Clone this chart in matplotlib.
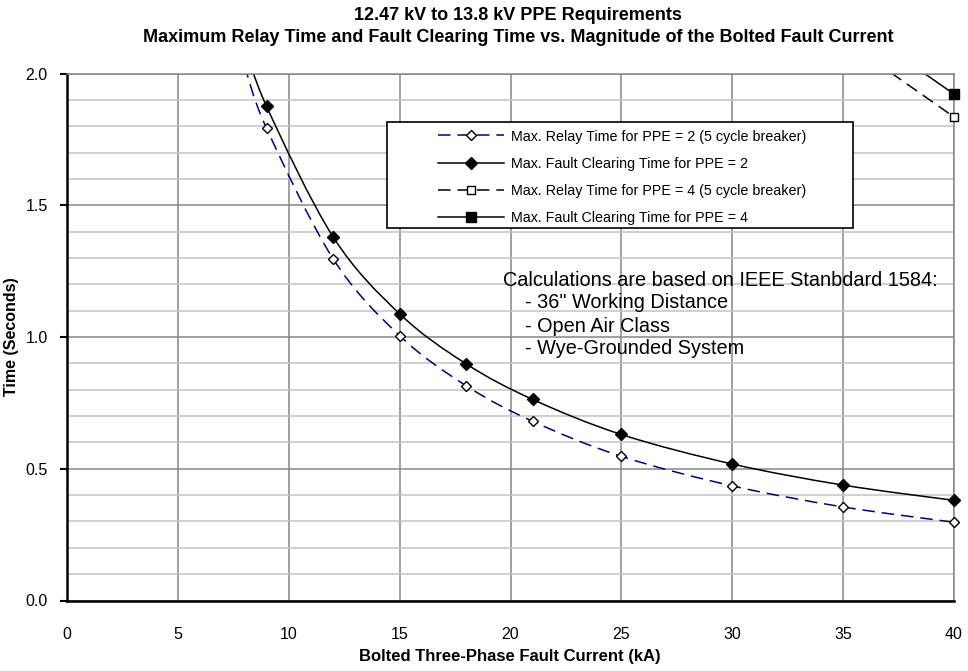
import matplotlib
matplotlib.use("Agg")
import matplotlib.pyplot as plt
import numpy as np
from matplotlib.path import Path
from matplotlib.patches import PathPatch, Rectangle
from matplotlib.lines import Line2D

plt.rcParams['font.family'] = ['Liberation Sans', 'DejaVu Sans']
plt.rcParams['lines.scale_dashes'] = False

# data (x = bolted fault current, kA; y = seconds)
current_ppe2 = [8, 9, 12, 15, 18, 21, 25, 30, 35, 40]
relay_ppe2 = [2.03, 1.792, 1.297, 1.005, 0.815, 0.680, 0.547, 0.435, 0.355, 0.297]
clearing_ppe2 = [2.113, 1.875, 1.380, 1.088, 0.898, 0.763, 0.630, 0.518, 0.438, 0.380]

current_ppe4 = [35, 40]
relay_ppe4 = [2.13, 1.835]
clearing_ppe4 = [2.215, 1.922]

labels = ["Max. Relay Time for PPE = 2 (5 cycle breaker)",
          "Max. Fault Clearing Time for PPE = 2",
          "Max. Relay Time for PPE = 4 (5 cycle breaker)",
          "Max. Fault Clearing Time for PPE = 4"]

note_lines = ["Calculations are based on IEEE Stanbdard 1584:",
              "    - 36\" Working Distance",
              "    - Open Air Class",
              "    - Wye-Grounded System"]

W, H = 968, 671


def smooth_path(x, y):
    # excel style smoothed line (catmull-rom as cubic bezier)
    pts = np.column_stack([x, y]).astype(float)
    verts = [pts[0]]
    codes = [Path.MOVETO]
    n = len(pts)
    for i in range(n - 1):
        p0 = pts[i - 1] if i > 0 else pts[i]
        p1 = pts[i]
        p2 = pts[i + 1]
        p3 = pts[i + 2] if i + 2 < n else pts[i + 1]
        verts += [p1 + (p2 - p0) / 6, p2 - (p3 - p1) / 6, p2]
        codes += [Path.CURVE4] * 3
    return Path(verts, codes)


def draw_series(ax, x, y, color, ls, marker, ms, mfc):
    ax.add_patch(PathPatch(smooth_path(x, y), facecolor='none', edgecolor=color,
                           lw=1.1, linestyle=ls, zorder=2))
    x = np.array(x)
    y = np.array(y)
    keep = y <= 2.0
    ax.plot(x[keep], y[keep], linestyle='none', marker=marker, ms=ms,
            mfc=mfc, mec='black', mew=1.0, clip_on=False, zorder=3)


fig = plt.figure(figsize=(W / 100, H / 100), dpi=100)
ax = fig.add_axes([67 / W, 1 - 600.5 / H, (954 - 67) / W, (600.5 - 73.5) / H])

ax.set_xlim(0, 40)
ax.set_ylim(0, 2.0)
ax.set_xticks(range(0, 41, 5))
ax.set_yticks(np.arange(0, 2.01, 0.5))
ax.set_yticks(np.arange(0, 2.01, 0.1), minor=True)
ax.yaxis.set_major_formatter(matplotlib.ticker.FormatStrFormatter('%.1f'))
ax.tick_params(axis='x', length=0, pad=19, labelsize=11.5)
ax.tick_params(axis='y', which='major', length=5, width=1.5, pad=9, labelsize=11.5)
ax.tick_params(which='minor', length=0)
ax.grid(which='major', color='#868686', lw=1.1)
ax.grid(which='minor', axis='y', color='#c4c4c4', lw=1.1)
for s in ['left', 'bottom']:
    ax.spines[s].set_linewidth(1.8)
for s in ['top', 'right']:
    ax.spines[s].set_color('#868686')
    ax.spines[s].set_linewidth(1.1)

navy_dash = (0, (9, 5))
black_dash = (0, (9, 5))
draw_series(ax, current_ppe2, relay_ppe2, '#000080', navy_dash, 'D', 5, 'white')
draw_series(ax, current_ppe2, clearing_ppe2, 'black', '-', 'D', 6, 'black')
draw_series(ax, current_ppe4, relay_ppe4, 'black', black_dash, 's', 6, 'white')
draw_series(ax, current_ppe4, clearing_ppe4, 'black', '-', 's', 7, 'black')

handles = [
    Line2D([], [], color='#000080', lw=1.1, ls=navy_dash, marker='D', ms=5, mfc='white', mec='black'),
    Line2D([], [], color='black', lw=1.1, ls='-', marker='D', ms=6, mfc='black', mec='black'),
    Line2D([], [], color='black', lw=1.1, ls=black_dash, marker='s', ms=6, mfc='white', mec='black'),
    Line2D([], [], color='black', lw=1.1, ls='-', marker='s', ms=7, mfc='black', mec='black'),
]

# legend box drawn separately so the padding can match the original
ax.add_patch(Rectangle((386.7 / W, 1 - 228 / H), (853 - 386.7) / W, (228 - 121.7) / H,
                       transform=fig.transFigure, facecolor='white', edgecolor='black',
                       lw=1.2, clip_on=False, zorder=4))
leg = ax.legend(handles, labels, loc='upper left', bbox_to_anchor=(438 / W, 1 - 129.5 / H),
                bbox_transform=fig.transFigure, frameon=False, fontsize=10.3,
                borderpad=0, borderaxespad=0, handlelength=4.6, handletextpad=0.5,
                labelspacing=0.92)
leg.set_zorder(5)

for i, line in enumerate(note_lines):
    y = [280, 302.7, 326, 348.3][i]
    fig.text(503 / W, 1 - y / H, line, fontsize=14.3, ha='left', va='center')

fig.text(518 / W, 1 - 15 / H, "12.47 kV to 13.8 kV PPE Requirements",
         fontsize=13, fontweight='bold', ha='center', va='center')
fig.text(518 / W, 1 - 37 / H,
         "Maximum Relay Time and Fault Clearing Time vs. Magnitude of the Bolted Fault Current",
         fontsize=13, fontweight='bold', ha='center', va='center')
fig.text(510 / W, 1 - 657 / H, "Bolted Three-Phase Fault Current (kA)",
         fontsize=12, fontweight='bold', ha='center', va='center')
fig.text(12 / W, 1 - 337 / H, "Time (Seconds)", fontsize=11.5, fontweight='bold',
         ha='center', va='center', rotation=90)

fig.savefig("out.png", dpi=100)
